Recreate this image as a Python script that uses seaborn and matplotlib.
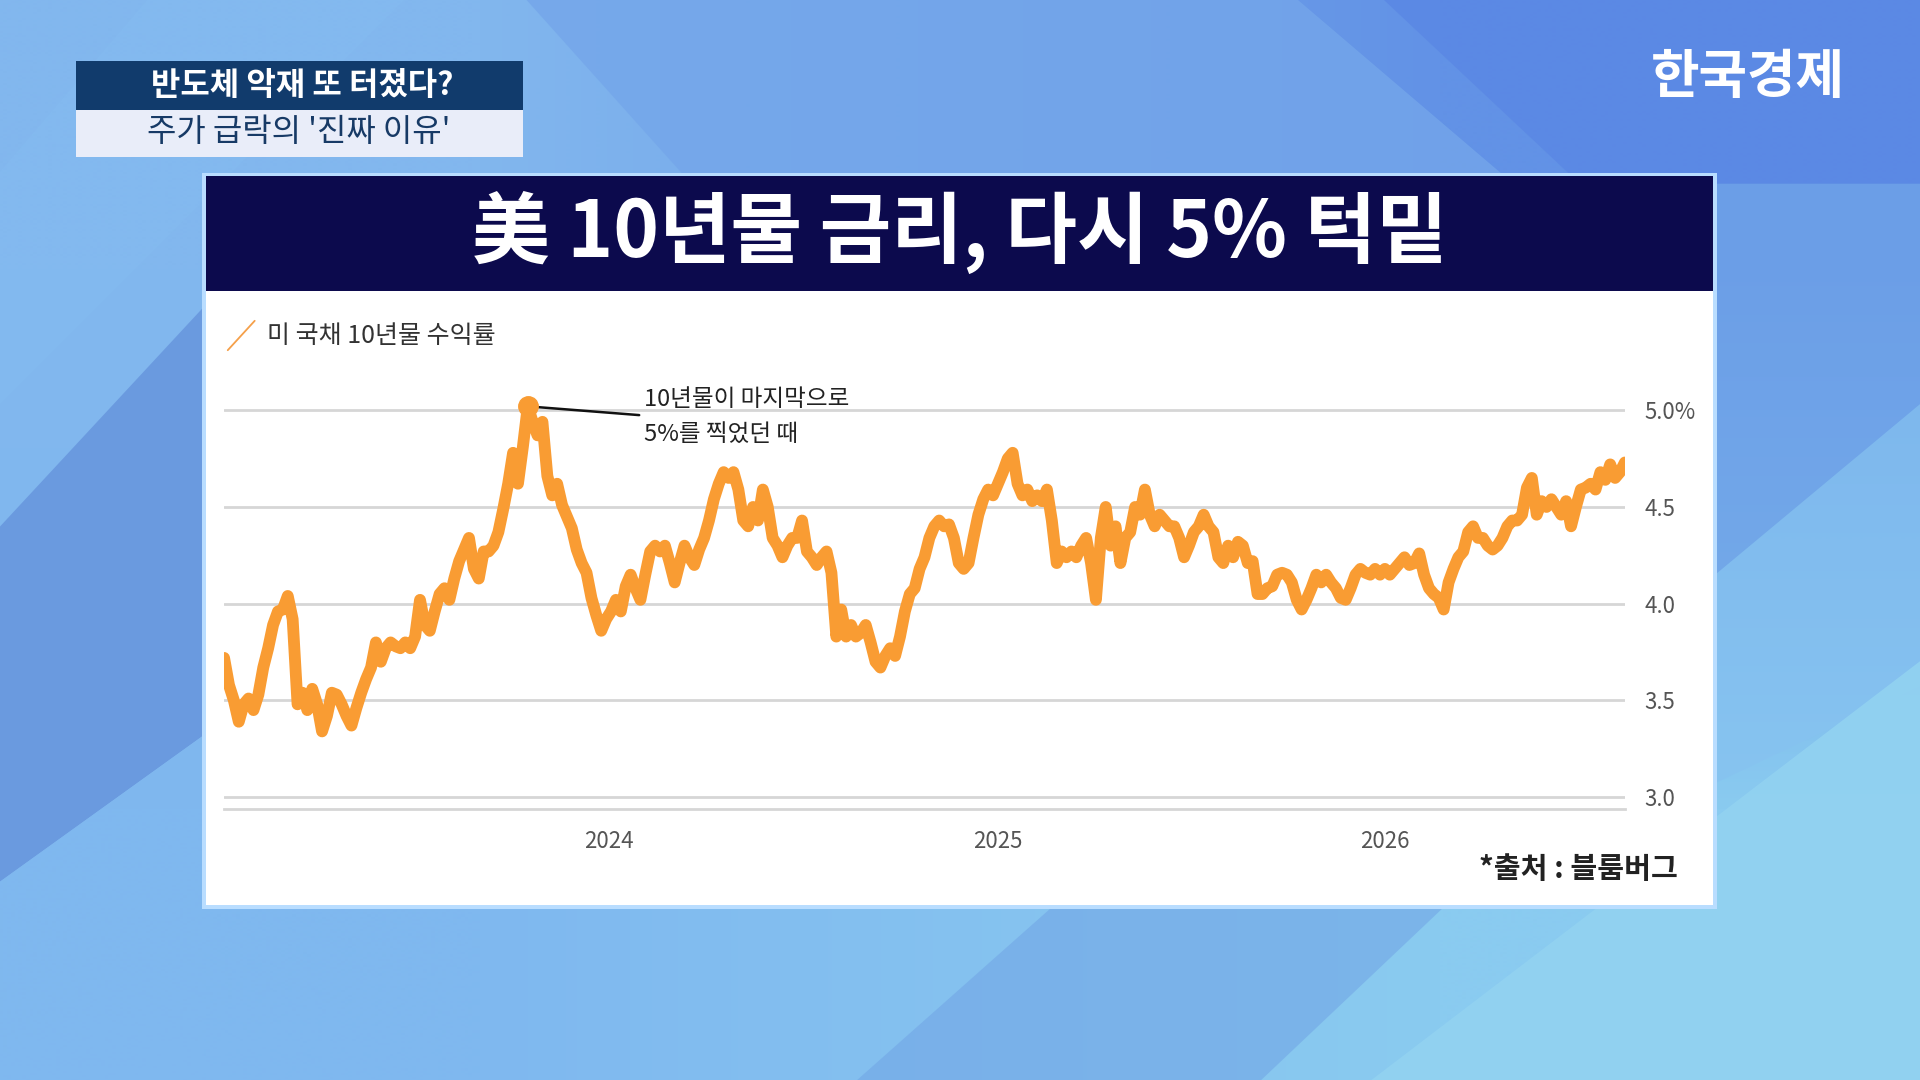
import numpy as np
import pandas as pd
import matplotlib
matplotlib.use("Agg")
import matplotlib.pyplot as plt
import seaborn as sns
from matplotlib.patches import Rectangle, Polygon
from matplotlib.lines import Line2D
from matplotlib.ticker import FixedLocator, FixedFormatter

# ---------------- data ----------------
start_date = "2023-01-03"
end_date = "2026-08-15"
yield_values = [
    3.72, 3.58, 3.50, 3.39, 3.48, 3.51, 3.45, 3.53, 3.67, 3.77, 3.89, 3.96, 3.97, 4.04, 3.92,
    3.48, 3.54, 3.45, 3.56, 3.48, 3.34, 3.42, 3.54, 3.53, 3.48, 3.42, 3.37, 3.46, 3.54, 3.61,
    3.67, 3.80, 3.70, 3.77, 3.80, 3.78, 3.77, 3.80, 3.77, 3.83, 4.02, 3.89, 3.86, 3.96, 4.05,
    4.08, 4.02, 4.13, 4.22, 4.28, 4.34, 4.18, 4.13, 4.27, 4.27, 4.30, 4.37, 4.49, 4.62, 4.78,
    4.62, 4.81, 5.02, 4.94, 4.87, 4.94, 4.66, 4.56, 4.62, 4.51, 4.45, 4.39, 4.28, 4.21, 4.16,
    4.03, 3.94, 3.86, 3.92,
    3.96, 4.02, 3.96, 4.09, 4.15, 4.08, 4.02, 4.15, 4.27, 4.30, 4.27, 4.30, 4.21, 4.11, 4.21,
    4.30, 4.24, 4.20, 4.28, 4.34, 4.43, 4.54, 4.62, 4.68, 4.65, 4.68, 4.59, 4.43, 4.40, 4.50,
    4.43, 4.59, 4.50, 4.34, 4.30, 4.24, 4.30, 4.34, 4.34, 4.43, 4.27, 4.24, 4.20, 4.24, 4.27,
    4.16, 3.83, 3.97, 3.83, 3.89, 3.83, 3.85, 3.89, 3.80, 3.70, 3.67, 3.73, 3.77, 3.73, 3.83,
    3.96, 4.05, 4.08, 4.18, 4.24, 4.34, 4.40, 4.43, 4.40, 4.41, 4.34, 4.21, 4.18, 4.21, 4.34,
    4.46, 4.54, 4.59, 4.56, 4.62, 4.68, 4.75, 4.78, 4.62, 4.56, 4.59, 4.53, 4.56, 4.53, 4.59,
    4.43, 4.21, 4.27, 4.24, 4.27, 4.24, 4.30, 4.34, 4.21, 4.02, 4.34, 4.50, 4.30, 4.40, 4.21,
    4.34, 4.37, 4.50, 4.46, 4.59, 4.46, 4.40, 4.46, 4.43, 4.40, 4.40, 4.34, 4.24, 4.30, 4.37,
    4.40, 4.46, 4.40, 4.37, 4.24, 4.21, 4.30, 4.24, 4.32, 4.30, 4.21, 4.22, 4.05, 4.05, 4.08,
    4.09, 4.15, 4.16, 4.15, 4.11, 4.02, 3.97, 4.02, 4.08, 4.15, 4.11, 4.15, 4.11, 4.08, 4.03,
    4.02, 4.08, 4.15, 4.18, 4.16, 4.15, 4.18, 4.15, 4.18, 4.15, 4.18, 4.21, 4.24, 4.20, 4.21,
    4.26, 4.15, 4.08, 4.05, 4.03, 3.97, 4.11, 4.18, 4.24, 4.27, 4.37, 4.40, 4.34, 4.34, 4.30,
    4.28, 4.30, 4.34, 4.40, 4.43, 4.43, 4.46, 4.60, 4.65, 4.46, 4.53, 4.50, 4.54, 4.50, 4.46,
    4.53, 4.40, 4.50, 4.59, 4.60, 4.62, 4.59, 4.68, 4.64, 4.72, 4.65, 4.68, 4.73,
]
y_ticks = [3.0, 3.5, 4.0, 4.5, 5.0]
y_tick_labels = ["3.0", "3.5", "4.0", "4.5", "5.0%"]
x_tick_dates = ["2024-01-01", "2025-01-01", "2026-01-01"]
x_tick_labels = ["2024", "2025", "2026"]

series_name = "미 국채 10년물 수익률"
title_text = "美 10년물 금리, 다시 5% 턱밑"
caption_top = "반도체 악재 또 터졌다?"
caption_bottom = "주가 급락의 '진짜 이유'"
logo_text = "한국경제"
note_lines = ["10년물이 마지막으로", "5%를 찍었던 때"]
source_text = "*출처 : 블룸버그"

dates = pd.date_range(start_date, end_date, periods=len(yield_values))
df = pd.DataFrame({"date": dates, "yield": yield_values})

# ---------------- style ----------------
sns.set_theme(style="white")
plt.rcParams['font.family'] = ['Noto Sans CJK KR', 'DejaVu Sans']

ORANGE = "#f99c33"
W, H = 1568, 882
def fx(x): return x / W
def fy(y): return 1 - y / H

fig = plt.figure(figsize=(19.2, 10.8), dpi=100)

# ---------------- background ----------------
bg = fig.add_axes([0, 0, 1, 1], zorder=-10)
bg.set_xlim(0, W); bg.set_ylim(H, 0); bg.axis('off')
grad = np.array([[[0x82, 0xb7, 0xee], [0x62, 0x92, 0xe6]],
                 [[0x7f, 0xb8, 0xef], [0x8a, 0xcb, 0xf0]]]) / 255.0
bg.imshow(grad, extent=[0, W, H, 0], aspect='auto', interpolation='bilinear', zorder=0)
shapes = [
    ([(430, 0), (1060, 0), (1230, 145), (560, 145)], "#74a6ea", 0.8),
    ([(1130, 0), (1568, 0), (1568, 150), (1290, 150)], "#5b88e4", 0.9),
    ([(0, 430), (167, 250), (167, 600), (0, 720)], "#6593dc", 0.8),
    ([(0, 720), (167, 600), (167, 882), (0, 882)], "#80b8ef", 0.9),
    ([(1400, 150), (1568, 150), (1568, 330), (1400, 470)], "#70a4e8", 0.7),
    ([(1400, 470), (1568, 330), (1568, 560), (1400, 640)], "#86c2f0", 0.7),
    ([(1120, 882), (1568, 540), (1568, 882)], "#92d2f1", 0.9),
    ([(700, 882), (860, 740), (1180, 740), (1030, 882)], "#72a6e6", 0.6),
    ([(0, 140), (120, 0), (330, 0), (0, 330)], "#84bbf0", 0.5),
]
for pts, col, a in shapes:
    bg.add_patch(Polygon(pts, closed=True, fc=col, ec='none', alpha=a, zorder=1))

# caption boxes
bg.add_patch(Rectangle((62, 50), 365, 40, fc="#113b6c", ec='none', zorder=3))
bg.add_patch(Rectangle((62, 90), 365, 38, fc="#e9edf9", ec='none', zorder=3))
# chart panel
bg.add_patch(Rectangle((165, 141), 1237, 601, fc="#b9ddff", ec='none', zorder=3))
bg.add_patch(Rectangle((168, 144), 1231, 595, fc="white", ec='none', zorder=4))
bg.add_patch(Rectangle((168, 144), 1231, 94, fc="#0c0a4d", ec='none', zorder=5))

# ---------------- texts ----------------
fig.text(fx(247), fy(70), caption_top, ha='center', va='center', fontsize=23,
         weight='bold', color='white')
fig.text(fx(244), fy(108), caption_bottom, ha='center', va='center', fontsize=23,
         weight='medium', color='#173a66')
fig.text(fx(1427), fy(63), logo_text, ha='center', va='center', fontsize=38,
         weight='bold', color='white')
fig.text(fx(784), fy(190), title_text, ha='center', va='center', fontsize=56,
         weight='heavy', color='white')

# legend
fig.add_artist(Line2D([fx(186), fx(208)], [fy(286), fy(262)], color="#f5a04a", lw=1.3,
                      transform=fig.transFigure))
fig.text(fx(218), fy(274), series_name, ha='left', va='center', fontsize=18, color='#333333')

fig.text(fx(1370), fy(710), source_text, ha='right', va='center', fontsize=21,
         weight='bold', color='#222222')

# ---------------- chart ----------------
ax = fig.add_axes([fx(183), fy(661), (1327 - 183) / W, (661 - 320) / H])
ax.patch.set_alpha(0)
sns.lineplot(data=df, x="date", y="yield", ax=ax, color=ORANGE, linewidth=8.5,
             solid_joinstyle='round', solid_capstyle='round', zorder=3)

ax.set_xlim(dates[0], dates[-1])
ax.set_ylim(2.937, 5.095)
ax.set_xlabel(""); ax.set_ylabel("")

ax.yaxis.set_major_locator(FixedLocator(y_ticks))
ax.yaxis.set_major_formatter(FixedFormatter(y_tick_labels))
ax.yaxis.tick_right()
ax.set_xticks(pd.to_datetime(x_tick_dates))
ax.set_xticklabels(x_tick_labels)
ax.tick_params(axis='y', length=0, pad=14, labelsize=16, labelcolor='#555555')
ax.tick_params(axis='x', length=0, pad=15, labelsize=16, labelcolor='#555555')
ax.yaxis.grid(True, color='#d6d6d6', lw=2)
ax.xaxis.grid(False)
ax.set_axisbelow(True)
for s in ['top', 'left', 'right']:
    ax.spines[s].set_visible(False)
ax.spines['bottom'].set_color('#d6d6d6')
ax.spines['bottom'].set_linewidth(2)

# peak marker + annotation
idx = int(np.argmax(yield_values))
ax.plot(dates[idx], yield_values[idx], 'o', ms=14, color=ORANGE, zorder=4)
ax.annotate('', xy=(dates[idx], yield_values[idx]), xytext=(fx(522), fy(339)),
            textcoords='figure fraction',
            arrowprops=dict(arrowstyle='-', color='#111111', lw=1.8, shrinkA=0, shrinkB=6))
fig.text(fx(526), fy(326), note_lines[0], ha='left', va='center', fontsize=17, color='#222222')
fig.text(fx(526), fy(355), note_lines[1], ha='left', va='center', fontsize=17, color='#222222')

fig.savefig("out.png", dpi=100)
